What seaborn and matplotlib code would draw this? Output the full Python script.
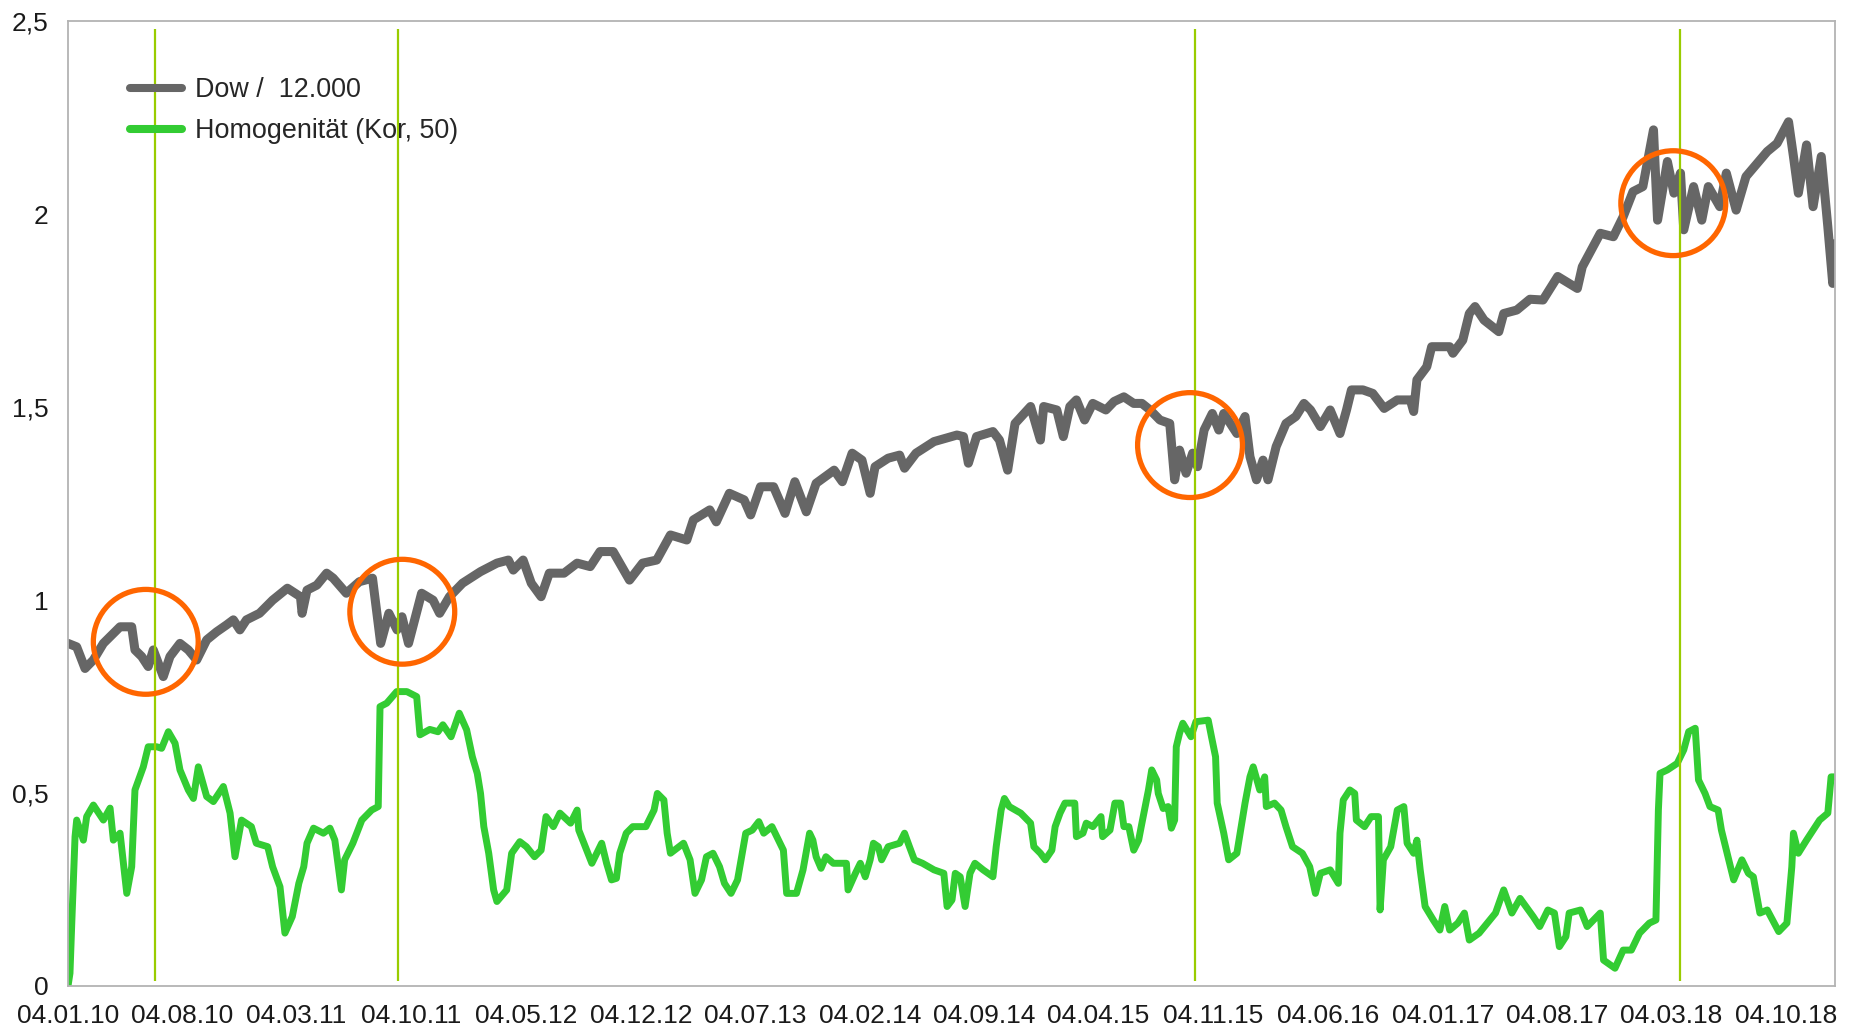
import numpy as np
import pandas as pd
import matplotlib
matplotlib.use("Agg")
import matplotlib.pyplot as plt
import seaborn as sns

# months after 04.01.2010
dow_months = [0.0, 0.53, 1.04, 1.55, 2.16, 3.18, 3.89, 4.09, 4.5, 4.9, 5.21, 5.82, 6.23, 6.84, 7.35,
              7.86, 8.47, 9.08, 9.69, 10.1, 10.5, 10.9, 11.7, 12.5, 13.4, 14.2, 14.3, 14.6, 15.2, 15.8,
              16.2, 17.0, 17.8, 18.6, 19.1, 19.6, 20.1, 20.4, 20.8, 21.6, 22.3, 22.7, 23.3, 24.1, 25.2,
              26.2, 26.9, 27.2, 27.8, 28.3, 28.9, 29.4, 30.3, 31.1, 31.9, 32.5, 33.3, 34.3, 35.1, 35.96,
              36.8, 37.8, 38.2, 39.2, 39.6, 40.4, 41.3, 41.7, 42.3, 43.1, 43.8, 44.4, 45.1, 45.7, 46.8,
              47.3, 47.9, 48.5, 49.0, 49.3, 50.1, 50.8, 51.1, 51.8, 52.9, 54.3, 54.7, 55.0, 55.5, 56.5,
              56.9, 57.4, 57.85, 58.8, 59.4, 59.6, 60.4, 60.8, 61.2, 61.6, 62.1, 62.6, 63.4, 63.9, 64.5,
              65.1, 65.6, 66.1, 66.7, 67.3, 67.6, 67.9, 68.3, 68.7, 69.0, 69.4, 69.9, 70.3, 70.6, 71.4,
              71.9, 72.2, 72.6, 73.0, 73.3, 73.8, 74.4, 75.0, 75.5, 75.9, 76.5, 77.1, 77.7, 78.1, 78.4,
              79.1, 79.7, 80.4, 81.2, 82.0, 82.2, 82.4, 83.0, 83.3, 84.4, 84.6, 85.2, 85.6, 85.95, 86.5,
              87.4, 87.7, 88.5, 89.3, 90.1, 91.0, 92.2, 92.5, 93.6, 94.4, 95.0, 95.6, 96.2, 96.85, 97.1,
              97.7, 98.1, 98.5, 98.7, 99.3, 99.8, 100.2, 100.9, 101.3, 101.9, 102.5, 103.8, 104.4, 105.1,
              105.4, 105.7, 106.2, 106.6, 107.1, 107.5, 107.8, 108.0]
dow_values = [0.888, 0.879, 0.823, 0.845, 0.888, 0.931, 0.931, 0.871, 0.854, 0.828, 0.871, 0.802, 0.854,
              0.888, 0.871, 0.845, 0.897, 0.918, 0.936, 0.949, 0.923, 0.949, 0.966, 1.0, 1.031, 1.009,
              0.966, 1.026, 1.039, 1.07, 1.057, 1.018, 1.048, 1.057, 0.888, 0.966, 0.923, 0.957, 0.888,
              1.018, 1.0, 0.966, 1.009, 1.044, 1.074, 1.096, 1.104, 1.078, 1.104, 1.044, 1.009, 1.07,
              1.07, 1.096, 1.087, 1.126, 1.126, 1.052, 1.096, 1.104, 1.169, 1.156, 1.208, 1.234, 1.203,
              1.277, 1.26, 1.221, 1.294, 1.294, 1.225, 1.307, 1.229, 1.303, 1.337, 1.307, 1.381, 1.363,
              1.277, 1.346, 1.368, 1.376, 1.342, 1.381, 1.411, 1.428, 1.424, 1.355, 1.424, 1.437, 1.415,
              1.337, 1.458, 1.502, 1.415, 1.502, 1.493, 1.424, 1.502, 1.519, 1.467, 1.510, 1.493, 1.515,
              1.527, 1.510, 1.510, 1.493, 1.467, 1.458, 1.312, 1.389, 1.329, 1.381, 1.346, 1.441, 1.484,
              1.441, 1.484, 1.432, 1.476, 1.372, 1.312, 1.363, 1.312, 1.398, 1.458, 1.476, 1.510, 1.493,
              1.45, 1.493, 1.432, 1.493, 1.545, 1.545, 1.536, 1.497, 1.519, 1.519, 1.489, 1.571, 1.605,
              1.657, 1.657, 1.640, 1.674, 1.743, 1.761, 1.726, 1.696, 1.743, 1.752, 1.780, 1.778, 1.839,
              1.808, 1.864, 1.951, 1.942, 1.994, 2.059, 2.072, 2.219, 1.985, 2.137, 2.055, 2.107, 1.960,
              2.072, 1.985, 2.072, 2.02, 2.107, 2.011, 2.098, 2.163, 2.184, 2.240, 2.150, 2.055, 2.180,
              2.02, 2.150, 1.968, 1.821, 1.925]

hom_months = [0.0, 0.12, 0.23, 0.43, 0.53, 0.94, 1.14, 1.55, 2.16, 2.57, 2.77, 3.18, 3.59, 3.89, 4.09,
              4.6, 4.9, 5.42, 5.72, 6.13, 6.54, 6.84, 7.35, 7.66, 7.96, 8.47, 8.88, 9.49, 9.9, 10.2,
              10.6, 11.2, 11.5, 12.2, 12.5, 12.95, 13.25, 13.7, 14.1, 14.4, 14.6, 15.0, 15.6, 16.0, 16.3,
              16.7, 16.9, 17.4, 17.95, 18.55, 18.95, 19.06, 19.47, 20.08, 20.7, 21.3, 21.5, 22.1, 22.6,
              22.9, 23.4, 23.9, 24.35, 24.7, 25.0, 25.2, 25.4, 25.7, 26.0, 26.2, 26.8, 27.1, 27.6, 28.0,
              28.5, 28.9, 29.2, 29.65, 30.05, 30.7, 31.1, 31.2, 31.6, 32.0, 32.6, 32.9, 33.2, 33.5, 33.7,
              34.1, 34.5, 35.3, 35.8, 36.0, 36.4, 36.6, 36.8, 37.6, 38.0, 38.3, 38.7, 39.0, 39.4, 39.8,
              40.1, 40.5, 40.9, 41.4, 41.8, 42.2, 42.5, 43.0, 43.3, 43.7, 43.9, 44.5, 44.9, 45.3, 45.5,
              45.7, 46.0, 46.3, 46.75, 47.55, 47.65, 48.1, 48.4, 48.7, 49.0, 49.2, 49.5, 49.7, 50.1, 50.8,
              51.1, 51.4, 51.7, 52.2, 52.9, 53.5, 53.7, 54.0, 54.2, 54.5, 54.8, 55.1, 55.4, 55.9, 56.5,
              56.7, 57.0, 57.2, 57.5, 58.2, 58.8, 59.0, 59.4, 59.7, 60.1, 60.3, 60.6, 60.9, 61.5, 61.6,
              62.0, 62.2, 62.6, 63.1, 63.2, 63.65, 63.95, 64.3, 64.5, 64.8, 65.1, 65.4, 65.6, 66.0, 66.2,
              66.5, 66.6, 66.9, 67.2, 67.4, 67.6, 67.7, 67.9, 68.1, 68.6, 68.9, 69.65, 69.85, 70.1, 70.2,
              70.6, 70.9, 71.4, 71.6, 71.9, 72.2, 72.4, 72.8, 73.1, 73.2, 73.7, 74.1, 74.4, 74.8, 75.4,
              75.85, 76.2, 76.5, 77.1, 77.6, 77.7, 77.9, 78.3, 78.6, 78.7, 79.2, 79.6, 80.05, 80.15, 80.35,
              80.8, 81.2, 81.6, 81.8, 82.2, 82.4, 82.6, 82.9, 83.4, 83.8, 84.1, 84.4, 84.9, 85.3, 85.6,
              86.2, 87.2, 87.7, 88.2, 88.7, 89.5, 89.9, 90.4, 90.8, 91.1, 91.5, 91.7, 92.4, 92.8, 93.6,
              93.8, 94.5, 95.0, 95.5, 96.0, 96.6, 97.0, 97.15, 97.25, 97.7, 98.3, 98.7, 99.0, 99.4, 99.6,
              100.0, 100.3, 100.8, 101.0, 101.4, 101.75, 102.25, 102.65, 102.95, 103.35, 103.8, 104.5,
              105.0, 105.3, 105.4, 105.7, 106.2, 107.0, 107.5, 107.7, 108.0]
hom_values = [0.0, 0.033, 0.163, 0.387, 0.43, 0.378, 0.439, 0.469, 0.43, 0.461, 0.378, 0.396, 0.24,
              0.309, 0.508, 0.568, 0.62, 0.62, 0.616, 0.659, 0.629, 0.56, 0.508, 0.486, 0.568, 0.491,
              0.478, 0.517, 0.448, 0.335, 0.43, 0.413, 0.37, 0.361, 0.309, 0.257, 0.137, 0.18, 0.266,
              0.309, 0.37, 0.409, 0.396, 0.409, 0.378, 0.249, 0.327, 0.37, 0.43, 0.456, 0.465, 0.724,
              0.733, 0.763, 0.763, 0.75, 0.651, 0.665, 0.659, 0.677, 0.646, 0.707, 0.664, 0.594, 0.551,
              0.499, 0.413, 0.344, 0.249, 0.219, 0.249, 0.344, 0.374, 0.361, 0.335, 0.352, 0.439, 0.413,
              0.448, 0.422, 0.456, 0.404, 0.361, 0.318, 0.37, 0.318, 0.275, 0.279, 0.344, 0.396, 0.413,
              0.413, 0.456, 0.499, 0.482, 0.396, 0.344, 0.37, 0.327, 0.240, 0.275, 0.335, 0.344, 0.309,
              0.266, 0.240, 0.275, 0.396, 0.404, 0.426, 0.396, 0.413, 0.387, 0.352, 0.240, 0.24, 0.301,
              0.396, 0.378, 0.335, 0.305, 0.335, 0.318, 0.318, 0.249, 0.292, 0.318, 0.283, 0.327, 0.37,
              0.361, 0.327, 0.361, 0.37, 0.396, 0.361, 0.327, 0.318, 0.301, 0.292, 0.206, 0.223, 0.292,
              0.283, 0.206, 0.292, 0.318, 0.301, 0.283, 0.361, 0.456, 0.486, 0.465, 0.448, 0.422, 0.361,
              0.344, 0.327, 0.352, 0.413, 0.448, 0.474, 0.474, 0.387, 0.396, 0.422, 0.413, 0.439, 0.387,
              0.404, 0.474, 0.474, 0.413, 0.413, 0.352, 0.378, 0.422, 0.508, 0.56, 0.534, 0.499, 0.46,
              0.465, 0.409, 0.43, 0.62, 0.655, 0.681, 0.646, 0.685, 0.689, 0.646, 0.594, 0.474, 0.396,
              0.327, 0.344, 0.396, 0.474, 0.542, 0.568, 0.508, 0.542, 0.465, 0.474, 0.456, 0.413, 0.361,
              0.344, 0.309, 0.240, 0.292, 0.301, 0.266, 0.396, 0.482, 0.508, 0.499, 0.43, 0.413, 0.439,
              0.439, 0.197, 0.327, 0.361, 0.456, 0.465, 0.37, 0.344, 0.378, 0.301, 0.206, 0.171, 0.145,
              0.206, 0.145, 0.163, 0.189, 0.119, 0.137, 0.189, 0.249, 0.189, 0.227, 0.180, 0.154, 0.197,
              0.189, 0.102, 0.128, 0.189, 0.197, 0.154, 0.189, 0.067, 0.046, 0.093, 0.093, 0.137, 0.163,
              0.171, 0.456, 0.551, 0.56, 0.577, 0.612, 0.659, 0.668, 0.534, 0.499, 0.465, 0.456, 0.404,
              0.335, 0.275, 0.327, 0.292, 0.283, 0.189, 0.197, 0.141, 0.163, 0.309, 0.396, 0.344, 0.378,
              0.43, 0.448, 0.542, 0.542]

marker_months = [5.31, 20.13, 68.86, 98.5]          # green vertical lines
circle_months = [4.75, 20.42, 68.54, 98.06]          # orange rings
circle_values = [0.892, 0.970, 1.402, 2.029]

y_ticks = [0, 0.5, 1, 1.5, 2, 2.5]
y_labels = ["0", "0,5", "1", "1,5", "2", "2,5"]

START = pd.Timestamp("2010-01-04")


def to_dates(months):
    return START + pd.to_timedelta(np.asarray(months) * 30.4375, unit="D")


def main():
    sns.set_style("white")
    plt.rcParams["font.family"] = ["Liberation Sans", "DejaVu Sans"]

    dow = pd.DataFrame({"date": to_dates(dow_months), "value": dow_values})
    hom = pd.DataFrame({"date": to_dates(hom_months), "value": hom_values})

    fig, ax = plt.subplots(figsize=(18.53, 10.32), dpi=100)
    fig.subplots_adjust(left=0.0367, right=0.9903, top=0.9792, bottom=0.0446)

    sns.lineplot(data=dow, x="date", y="value", ax=ax, color="#666666", linewidth=6.5,
                 estimator=None, sort=False, solid_joinstyle="round", label="Dow /  12.000")
    sns.lineplot(data=hom, x="date", y="value", ax=ax, color="#33cc33", linewidth=5,
                 estimator=None, sort=False, solid_joinstyle="round", label="Homogenität (Kor, 50)")

    ax.vlines(to_dates(marker_months), 0.012, 2.48, color="#99cc00", linewidth=1.6, zorder=5)
    ax.scatter(to_dates(circle_months), circle_values, s=5700, facecolors="none",
               edgecolors="#ff6600", linewidths=3.8, zorder=6)

    ax.set_ylim(0, 2.5)
    ax.set_xlim(START, START + pd.Timedelta(days=107.94 * 30.4375))
    ax.set_yticks(y_ticks)
    ax.set_yticklabels(y_labels)
    tick_dates = [START + pd.DateOffset(months=7 * k) for k in range(16)]
    ax.set_xticks(tick_dates)
    ax.set_xticklabels([d.strftime("%d.%m.%y") for d in tick_dates])
    ax.set_xlabel("")
    ax.set_ylabel("")

    for sp in ax.spines.values():
        sp.set_color("#b3b3b3")
        sp.set_linewidth(1.3)
    ax.tick_params(axis="both", direction="out", color="#b3b3b3", width=1.3,
                   labelsize=19, labelcolor="#1a1a1a")
    ax.tick_params(axis="x", length=9, pad=4)
    ax.tick_params(axis="y", length=9, pad=5)

    leg = ax.legend(loc="upper left", bbox_to_anchor=(0.035, 0.942), frameon=False,
                    fontsize=19.4, handlelength=1.95, handletextpad=0.45,
                    labelspacing=0.55, borderpad=0, borderaxespad=0)
    for h in leg.get_lines():
        h.set_linewidth(5.8)

    plt.savefig("out.png", dpi=100)
    plt.close()


if __name__ == "__main__":
    main()
